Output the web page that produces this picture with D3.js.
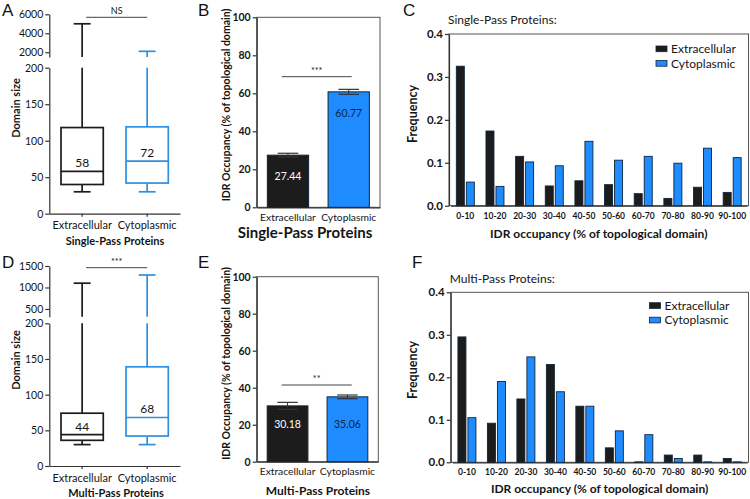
<!DOCTYPE html>
<html><head><meta charset="utf-8">
<script src="https://cdn.jsdelivr.net/npm/d3@7"></script>
<style>
body{margin:0;background:#fff}
svg{display:block}
text{font-family:Lato,'Open Sans',sans-serif;fill:#151515}
.axis path,.axis line{stroke:#333;stroke-width:1.2}
.letter{font-family:'Liberation Sans',Arial,sans-serif;font-size:17px;fill:#111}
</style>
</head><body><div id="chart"></div>
<script>
// ---------- DATA ----------
const boxCategories = ["Extracellular", "Cytoplasmic"];
// [min, q1, median, q3, max]
const singleBoxExtracellular = [30, 40, 58, 118, 5000];
const singleBoxCytoplasmic   = [30, 42, 72, 119, 2100];
const multiBoxExtracellular  = [30, 36, 44, 74, 1100];
const multiBoxCytoplasmic    = [30, 42, 68, 139, 1290];
const boxLowerTicks = [0, 50, 100, 150, 200];
const singleUpperTicks = [2000, 4000, 6000];
const multiUpperTicks = [500, 1000, 1500];

const singleOccupancyMean = [27.44, 60.77];
const singleOccupancySem  = [1.0, 1.3];
const multiOccupancyMean  = [30.18, 35.06];
const multiOccupancySem   = [1.9, 1.0];
const occupancyTicks = [0, 20, 40, 60, 80, 100];

const binLabels = ["0-10","10-20","20-30","30-40","40-50","50-60","60-70","70-80","80-90","90-100"];
const singleFreqExtracellular = [0.325, 0.174, 0.115, 0.046, 0.058, 0.049, 0.028, 0.017, 0.043, 0.031];
const singleFreqCytoplasmic   = [0.055, 0.045, 0.102, 0.093, 0.150, 0.106, 0.115, 0.099, 0.134, 0.112];
const multiFreqExtracellular  = [0.295, 0.092, 0.149, 0.230, 0.132, 0.034, 0.001, 0.017, 0.017, 0.009];
const multiFreqCytoplasmic    = [0.105, 0.190, 0.248, 0.166, 0.132, 0.074, 0.065, 0.009, 0.001, 0.001];
const freqTicks = [0, 0.1, 0.2, 0.3, 0.4];
const seriesNames = ["Extracellular", "Cytoplasmic"];

// ---------- STYLE ----------
const BLACK = "#1c1c1c";
const BOXBLUE = "#2e8fe0";
const BARBLUE = "#1e8cff";
const BAROUT = "#10243a";

const svg = d3.select("#chart").append("svg").attr("width", 750).attr("height", 499);

function letter(t, x, y) {
  svg.append("text").attr("class", "letter").attr("x", x).attr("y", y).text(t);
}

function boxPanel(o) {
  const g = svg.append("g");
  const x = d3.scaleBand().domain(boxCategories).range([o.left, o.right]).paddingInner(0.35).paddingOuter(0.18);
  const yLow = d3.scaleLinear().domain([0, 200]).range([o.bottom, o.lowTop]);
  const yUp = d3.scaleLinear().domain([o.breakVal, o.upMax]).range([o.breakY, o.upTop]);
  const yv = v => v <= 200 ? yLow(v) : yUp(Math.max(v, o.breakVal));

  const ax1 = g.append("g").attr("class", "axis").attr("transform", `translate(${o.left},0)`)
    .call(d3.axisLeft(yLow).tickValues(boxLowerTicks).tickFormat(d3.format("d")).tickSize(4).tickSizeOuter(0).tickPadding(2));
  const ax2 = g.append("g").attr("class", "axis").attr("transform", `translate(${o.left},0)`)
    .call(d3.axisLeft(yUp).tickValues(o.upTicks).tickFormat(d3.format("d")).tickSize(4).tickSizeOuter(0).tickPadding(2));
  [ax1, ax2].forEach(a => a.selectAll("text").style("font-size", "10.5px").style("font-family", "Lato"));

  const xa = g.append("g").attr("class", "axis").attr("transform", `translate(0,${o.bottom})`)
    .call(d3.axisBottom(x).tickSize(3).tickSizeOuter(0).tickPadding(5));
  xa.selectAll("text").style("font-size", "11px").style("font-family", "Lato");

  o.series.forEach((s, i) => {
    const c = boxCategories[i];
    const col = i === 0 ? BLACK : BOXBLUE;
    const x0 = x(c), bw = x.bandwidth(), cx = x0 + bw / 2;
    const cap = bw * 0.4;
    const [mn, q1, md, q3, mx] = s;
    const line = (x1, y1, x2, y2) => g.append("line").attr("x1", x1).attr("y1", y1).attr("x2", x2).attr("y2", y2)
      .attr("stroke", col).attr("stroke-width", 1.7);
    line(cx, yv(q3), cx, yLow(200));
    line(cx, yUp(o.breakVal), cx, yUp(mx));
    line(cx, yv(q1), cx, yv(mn));
    line(cx - cap / 2, yUp(mx), cx + cap / 2, yUp(mx));
    line(cx - cap / 2, yv(mn), cx + cap / 2, yv(mn));
    g.append("rect").attr("x", x0).attr("y", yv(q3)).attr("width", bw).attr("height", yv(q1) - yv(q3))
      .attr("fill", "#fff").attr("stroke", col).attr("stroke-width", 1.7);
    line(x0, yv(md), x0 + bw, yv(md));
    g.append("text").attr("x", cx).attr("y", yv(md) - 4).attr("text-anchor", "middle")
      .style("font-size", "12px").text(md);
  });

  const sx1 = x(boxCategories[0]) + x.bandwidth() / 2 + 4, sx2 = x(boxCategories[1]) + x.bandwidth() / 2;
  g.append("line").attr("x1", sx1).attr("x2", sx2).attr("y1", o.sigY).attr("y2", o.sigY).attr("stroke", "#444").attr("stroke-width", 1);
  g.append("text").attr("x", (sx1 + sx2) / 2).attr("y", o.sigY - 3).attr("text-anchor", "middle")
    .style("font-size", "9px").text(o.sig);

  g.append("text").attr("transform", `translate(${o.ylabX},${o.ylabY}) rotate(-90)`).attr("text-anchor", "middle")
    .attr("dy", "0.35em").style("font-size", "11px").style("font-weight", "bold").text("Domain size");
  g.append("text").attr("x", o.titleX).attr("y", o.titleY).attr("dy", "0.35em").attr("text-anchor", "middle")
    .style("font-size", "11px").style("font-weight", "bold").text(o.title);
}

function barPanel(o) {
  const g = svg.append("g");
  const x = d3.scaleBand().domain(boxCategories).range([o.left, o.right]).paddingInner(0.32).paddingOuter(0.175);
  const y = d3.scaleLinear().domain([0, 100]).range([o.bottom, o.top]);
  g.append("rect").attr("x", o.left).attr("y", o.top).attr("width", o.right - o.left).attr("height", o.bottom - o.top)
    .attr("fill", "none").attr("stroke", "#555").attr("stroke-width", 1);
  const ya = g.append("g").attr("class", "axis").attr("transform", `translate(${o.left},0)`)
    .call(d3.axisLeft(y).tickValues(occupancyTicks).tickSize(4).tickSizeOuter(0).tickPadding(2));
  ya.selectAll("text").style("font-size", "10.5px").style("font-weight", "bold");
  const xa = g.append("g").attr("class", "axis").attr("transform", `translate(0,${o.bottom})`)
    .call(d3.axisBottom(x).tickSize(0).tickSizeOuter(0).tickPadding(6));
  xa.selectAll("text").style("font-size", "10.3px");

  o.mean.forEach((m, i) => {
    const c = boxCategories[i];
    const x0 = x(c), bw = x.bandwidth(), cx = x0 + bw / 2, cap = bw * 0.5;
    g.append("rect").attr("x", x0).attr("y", y(m)).attr("width", bw).attr("height", y(0) - y(m))
      .attr("fill", i === 0 ? BLACK : BARBLUE).attr("stroke", BAROUT).attr("stroke-width", 1);
    const lo = y(m - o.sem[i]), hi = y(m + o.sem[i]);
    const ec = "#333";
    g.append("line").attr("x1", cx).attr("x2", cx).attr("y1", lo).attr("y2", hi).attr("stroke", ec).attr("stroke-width", 1);
    g.append("line").attr("x1", cx - cap / 2).attr("x2", cx + cap / 2).attr("y1", hi).attr("y2", hi).attr("stroke", ec).attr("stroke-width", 1.2);
    g.append("line").attr("x1", cx - cap / 2).attr("x2", cx + cap / 2).attr("y1", lo).attr("y2", lo).attr("stroke", ec).attr("stroke-width", 1.2);
    const ly = o.labelCommon ? y(d3.min(o.mean)) + 18 : y(m) + 21;
    g.append("text").attr("x", cx).attr("y", ly).attr("dy", "0.35em").attr("text-anchor", "middle")
      .style("font-size", "10.5px").style("fill", i === 0 ? "#fff" : "#0b2547").text(m.toFixed(2));
  });

  const sx1 = o.left + 25, sx2 = o.left + 95;
  g.append("line").attr("x1", sx1).attr("x2", sx2).attr("y1", o.sigY).attr("y2", o.sigY).attr("stroke", "#444").attr("stroke-width", 1);
  g.append("text").attr("x", (sx1 + sx2) / 2).attr("y", o.sigY - 3).attr("text-anchor", "middle")
    .style("font-size", "9px").text(o.sig);

  g.append("text").attr("transform", `translate(226,${o.ylabY}) rotate(-90)`).attr("text-anchor", "middle")
    .attr("dy", "0.35em").style("font-size", "10.5px").style("font-weight", "bold")
    .text("IDR Occupancy (% of topological domain)");
  g.append("text").attr("x", o.titleX).attr("y", o.titleY).attr("dy", "0.35em").attr("text-anchor", "middle")
    .style("font-size", o.titleSize).style("font-weight", "bold").text(o.title);
}

function histPanel(o) {
  const g = svg.append("g");
  const x = d3.scaleBand().domain(binLabels).range([o.left + 1.5, o.right - 1.5]);
  const y = d3.scaleLinear().domain([0, 0.4]).range([o.bottom, o.top]);
  g.append("rect").attr("x", o.left).attr("y", o.top).attr("width", o.right - o.left).attr("height", o.bottom - o.top)
    .attr("fill", "none").attr("stroke", "#555").attr("stroke-width", 1);
  const ya = g.append("g").attr("class", "axis").attr("transform", `translate(${o.left},0)`)
    .call(d3.axisLeft(y).tickValues(freqTicks).tickFormat(d3.format(".1f")).tickSize(4).tickSizeOuter(0).tickPadding(2));
  ya.selectAll("text").style("font-size", "11.5px").style("font-weight", "bold");
  const xa = g.append("g").attr("class", "axis").attr("transform", `translate(0,${o.bottom})`)
    .call(d3.axisBottom(x).tickSize(0).tickSizeOuter(0).tickPadding(7));
  xa.selectAll("text").style("font-size", "8.5px").style("font-weight", "bold");

  const bw = 8, gap = 2;
  [o.ext, o.cyt].forEach((arr, s) => {
    g.selectAll(null).data(arr).enter().append("rect")
      .attr("x", (d, i) => x(binLabels[i]) + x.bandwidth() / 2 + (s === 0 ? -gap / 2 - bw : gap / 2))
      .attr("y", d => y(d)).attr("width", bw).attr("height", d => y(0) - y(d))
      .attr("fill", s === 0 ? BLACK : BARBLUE).attr("stroke", BAROUT).attr("stroke-width", 0.9);
  });

  seriesNames.forEach((n, i) => {
    g.append("rect").attr("x", o.legX).attr("y", o.legY + i * 14.5).attr("width", 11).attr("height", 5.7)
      .attr("fill", i === 0 ? BLACK : BARBLUE).attr("stroke", BAROUT).attr("stroke-width", 0.8);
    g.append("text").attr("x", o.legX + 15).attr("y", o.legY + 3 + i * 14.5).attr("dy", "0.35em")
      .style("font-size", "12px").text(n);
  });

  g.append("text").attr("x", o.left - 1).attr("y", o.titleY).attr("dy", "0.35em").style("font-size", "12px").text(o.title);
  g.append("text").attr("transform", `translate(413,${o.ylabY}) rotate(-90)`).attr("text-anchor", "middle")
    .attr("dy", "0.35em").style("font-size", "12.5px").style("font-weight", "bold").text("Frequency");
  g.append("text").attr("x", (o.left + o.right) / 2).attr("y", o.xlabY).attr("dy", "0.35em").attr("text-anchor", "middle")
    .style("font-size", "12px").style("font-weight", "bold").text("IDR occupancy (% of topological domain)");
}

// ---------- PANELS ----------
boxPanel({
  left: 49.3, right: 180, bottom: 213.7, lowTop: 67.7, breakVal: 1500, breakY: 57, upMax: 6000, upTop: 14.3,
  upTicks: singleUpperTicks, series: [singleBoxExtracellular, singleBoxCytoplasmic],
  sig: "NS", sigY: 17.3, ylabX: 16, ylabY: 108, title: "Single-Pass Proteins", titleX: 115, titleY: 241.5
});
boxPanel({
  left: 49.3, right: 180, bottom: 466, lowTop: 323.3, breakVal: 320, breakY: 316.7, upMax: 1500, upTop: 266,
  upTicks: multiUpperTicks, series: [multiBoxExtracellular, multiBoxCytoplasmic],
  sig: "***", sigY: 267.7, ylabX: 16, ylabY: 360, title: "Multi-Pass Proteins", titleX: 116, titleY: 493.3
});
barPanel({
  left: 256.7, right: 380, top: 17.3, bottom: 207.3, mean: singleOccupancyMean, sem: singleOccupancySem,
  sig: "***", sigY: 76.7, ylabY: 105, title: "Single-Pass Proteins", titleX: 305, titleY: 233, titleSize: "15px", labelCommon: false
});
barPanel({
  left: 256.7, right: 378.3, top: 276.7, bottom: 461.7, mean: multiOccupancyMean, sem: multiOccupancySem,
  sig: "**", sigY: 385, ylabY: 363.5, title: "Multi-Pass Proteins", titleX: 318, titleY: 491, titleSize: "12px", labelCommon: true
});
histPanel({
  left: 449, right: 748.5, top: 34, bottom: 205.7, ext: singleFreqExtracellular, cyt: singleFreqCytoplasmic,
  legX: 656, legY: 46, title: "Single-Pass Proteins:", titleY: 20, ylabY: 114, xlabY: 233.3
});
histPanel({
  left: 450.7, right: 748.5, top: 292.3, bottom: 462.3, ext: multiFreqExtracellular, cyt: multiFreqCytoplasmic,
  legX: 649.5, legY: 302.7, title: "Multi-Pass Proteins:", titleY: 278.3, ylabY: 370, xlabY: 488.3
});

letter("A", 2, 16);
letter("B", 198, 16);
letter("C", 403, 16);
letter("D", 2, 268);
letter("E", 198, 268);
letter("F", 412, 268);
</script>
</body></html>
